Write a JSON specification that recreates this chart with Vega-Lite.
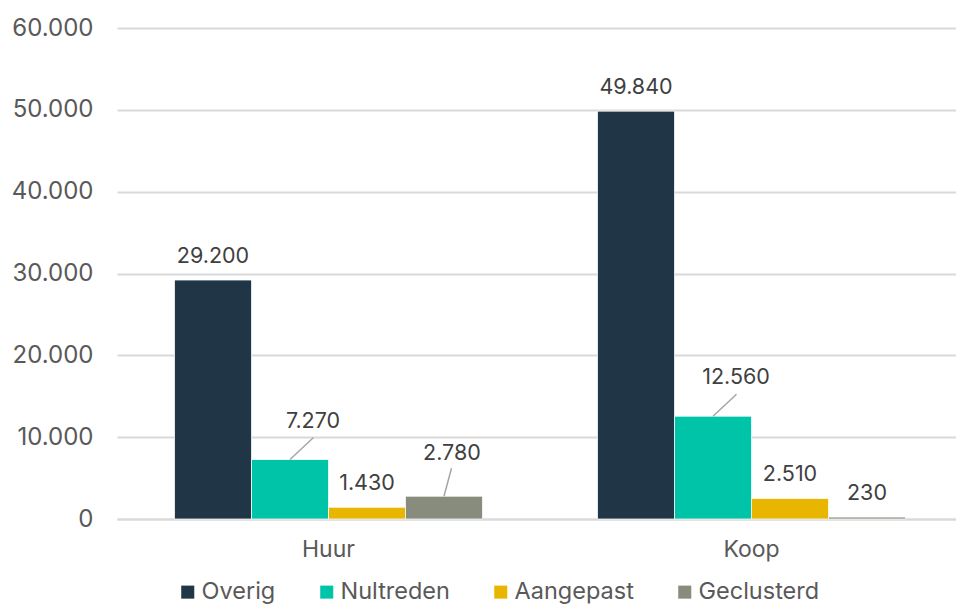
{
  "$schema": "https://vega.github.io/schema/vega-lite/v6.json",
  "width": 846,
  "height": 491,
  "autosize": "none",
  "padding": {"left": 117, "top": 28, "right": 0, "bottom": 85},
  "config": {
    "view": {"stroke": null},
    "font": "Inter",
    "locale": {"number": {"decimal": ",", "thousands": ".", "grouping": [3], "currency": ["€", ""]}}
  },
  "data": {
    "values": [
      {"woningtype": "Huur", "type": "Overig", "aantal": 29200},
      {"woningtype": "Huur", "type": "Nultreden", "aantal": 7270},
      {"woningtype": "Huur", "type": "Aangepast", "aantal": 1430},
      {"woningtype": "Huur", "type": "Geclusterd", "aantal": 2780},
      {"woningtype": "Koop", "type": "Overig", "aantal": 49840},
      {"woningtype": "Koop", "type": "Nultreden", "aantal": 12560},
      {"woningtype": "Koop", "type": "Aangepast", "aantal": 2510},
      {"woningtype": "Koop", "type": "Geclusterd", "aantal": 230}
    ]
  },
  "encoding": {
    "x": {
      "field": "woningtype", "type": "nominal", "sort": ["Huur", "Koop"],
      "scale": {"paddingInner": 0.272, "paddingOuter": 0.136},
      "axis": {"title": null, "labelAngle": 0, "ticks": false, "domainColor": "#d9d9d9", "domainWidth": 2,
               "labelFontSize": 23, "labelColor": "#595959", "labelPadding": 19}
    },
    "xOffset": {
      "field": "type", "type": "nominal", "sort": ["Overig", "Nultreden", "Aangepast", "Geclusterd"],
      "scale": {"paddingInner": 0, "paddingOuter": 0}
    },
    "y": {
      "field": "aantal", "type": "quantitative",
      "scale": {"domain": [0, 60000], "nice": false},
      "axis": {"title": null, "values": [0, 10000, 20000, 30000, 40000, 50000, 60000], "format": ",d",
               "domain": false, "ticks": false, "gridColor": "#d9d9d9", "gridWidth": 2,
               "labelFontSize": 24, "labelColor": "#595959", "labelPadding": 24}
    }
  },
  "layer": [
    {
      "mark": {"type": "bar", "stroke": "white", "strokeWidth": 0.75},
      "encoding": {
        "color": {
          "field": "type", "type": "nominal", "sort": ["Overig", "Nultreden", "Aangepast", "Geclusterd"],
          "scale": {"domain": ["Overig", "Nultreden", "Aangepast", "Geclusterd"],
                    "range": ["#203647", "#00c4a8", "#e8b500", "#878c7c"]},
          "legend": {"orient": "none", "legendX": 59, "legendY": 552, "direction": "horizontal", "title": null,
                     "symbolType": "square", "symbolSize": 170, "symbolStrokeWidth": 0,
                     "labelFontSize": 23.5, "labelColor": "#595959", "labelOffset": 2, "columnPadding": 39}
        }
      }
    },
    {
      "transform": [{"filter": "datum.type == 'Overig' || datum.type == 'Aangepast' || (datum.type == 'Geclusterd' && datum.woningtype == 'Koop')"}],
      "mark": {"type": "text", "dy": -23.5, "baseline": "middle", "fontSize": 21.5, "color": "#404040"},
      "encoding": {"text": {"field": "aantal", "type": "quantitative", "format": ",d"}}
    },
    {
      "transform": [{"filter": "datum.type == 'Nultreden'"}],
      "mark": {"type": "text", "dx": 23, "dy": -38, "baseline": "middle", "fontSize": 21.5, "color": "#404040"},
      "encoding": {"text": {"field": "aantal", "type": "quantitative", "format": ",d"}}
    },
    {
      "transform": [{"filter": "datum.type == 'Geclusterd' && datum.woningtype == 'Huur'"}],
      "mark": {"type": "text", "dx": 8, "dy": -42, "baseline": "middle", "fontSize": 21.5, "color": "#404040"},
      "encoding": {"text": {"field": "aantal", "type": "quantitative", "format": ",d"}}
    },
    {
      "transform": [{"filter": "datum.type == 'Nultreden'"}],
      "mark": {"type": "rule", "color": "#a6a6a6", "strokeWidth": 1.5, "x2Offset": -15, "y2Offset": -22},
      "encoding": {
        "x2": {"field": "woningtype"},
        "y2": {"field": "aantal"}
      }
    },
    {
      "transform": [{"filter": "datum.type == 'Geclusterd' && datum.woningtype == 'Huur'"}],
      "mark": {"type": "rule", "color": "#a6a6a6", "strokeWidth": 1.5, "x2Offset": 123, "y2Offset": -28},
      "encoding": {
        "x2": {"field": "woningtype"},
        "y2": {"field": "aantal"}
      }
    }
  ]
}
